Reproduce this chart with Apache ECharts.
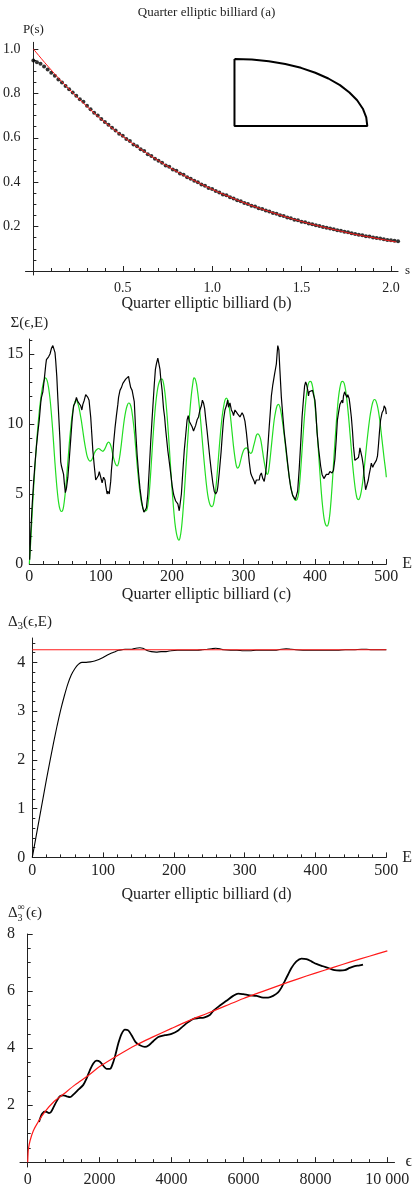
<!DOCTYPE html>
<html><head><meta charset="utf-8">
<script src="https://cdn.jsdelivr.net/npm/echarts@6/dist/echarts.min.js"></script>
<style>html,body{margin:0;padding:0;background:#fff}#c{width:413px;height:1188px}</style>
</head><body><div id="c"></div>
<script>
// ---------------- Panel (a): P(s) ----------------
const aStep = 0.02; // spacing of the histogram points in s
const aPoints = [
 .948,.940,.933,.921,.908,.893,.879,.862,.849,.833,
 .818,.804,.789,.774,.762,.744,.728,.713,.700,.685,
 .671,.659,.645,.633,.618,.609,.594,.585,.570,.562,
 .548,.540,.526,.518,.505,.496,.488,.475,.470,.457,
 .451,.439,.433,.422,.416,.406,.400,.390,.384,.374,
 .369,.360,.354,.345,.341,.332,.327,.319,.314,.306,
 .302,.294,.290,.283,.279,.272,.268,.261,.258,.251,
 .248,.241,.238,.231,.229,.222,.220,.214,.211,.206,
 .203,.198,.195,.191,.188,.184,.181,.177,.174,.170,
 .167,.163,.161,.157,.155,.151,.149,.146,.143,.140,
 .138,.136,.134];
const aRed = [[0,1.0],[0.1,0.905],[0.2,0.819],[0.3,0.741],[0.4,0.670],[0.5,0.607],[0.6,0.549],[0.7,0.497],[0.8,0.449],[0.9,0.407],[1.0,0.368],[1.1,0.333],[1.2,0.301],[1.3,0.273],[1.4,0.247],[1.5,0.223],[1.6,0.202],[1.7,0.183],[1.8,0.165],[1.9,0.150],[2.0,0.135],[2.03,0.131]];
// billiard outline drawn inside panel (a)
const insetOutline = [[1.125,0.955],[1.222,0.952],[1.317,0.945],[1.409,0.932],[1.497,0.915],[1.577,0.893],[1.650,0.867],[1.715,0.837],[1.768,0.804],[1.811,0.769],[1.843,0.731],[1.862,0.692],[1.868,0.653],[1.125,0.653],[1.125,0.955]];
const aXTicks = [0.5,1.0,1.5,2.0];
const aXLabels = ['0.5','1.0','1.5','2.0'];
const aYTicks = [0.2,0.4,0.6,0.8,1.0];
const aYLabels = ['0.2','0.4','0.6','0.8','1.0'];

// ---------------- Panel (b): Sigma(eps,E) ----------------
const bBlack = [[0.5,0.3],[2,2.2],[4,4.2],[6,5.8],[8,7.2],[10,8.4],[12,9.4],[14,10.3],[16,11.5],[17,11.9],[18,11.8],[19,12.3],[21,13.2],[23,14.2],[24,14.6],[26,14.5],[27,14.8],[29,15.0],[31,15.4],[33,15.6],[34.5,15.7],[36,15.1],[37,14.5],[38.5,13.4],[40,11.8],[41.5,10.3],[43,8.8],[44,7.3],[45,7.0],[47,7.0],[48,6.4],[49,5.8],[50.5,5.1],[52,5.4],[54,6.2],[56,7.5],[58,8.9],[60,10.3],[62,11.3],[64,11.5],[66,11.9],[68,11.6],[70,11.7],[72,11.3],[73.6,11.0],[75,11.4],[77,11.7],[79,12.1],[80.5,12.0],[82,11.9],[83.7,11.7],[85,11.0],[86,10.5],[87.5,9.3],[89,8.1],[91,7.0],[93,6.0],[95,5.9],[96.6,6.3],[98,6.6],[100,6.5],[101,6.0],[102,5.8],[104,6.2],[106,6.0],[107,5.6],[109,5.0],[110,5.2],[111,5.2],[112,5.0],[114,5.9],[115,6.7],[117,7.8],[118,8.6],[120,9.7],[122,10.6],[124,11.4],[125,11.9],[127,12.4],[129,12.6],[131,12.9],[133,13.0],[135,13.2],[137,13.3],[139,13.4],[140,13.1],[141,13.0],[142,12.6],[144,12.4],[146,12.4],[147,11.6],[149,9.5],[151,7.8],[153,6.5],[155,5.4],[157,4.6],[159,4.0],[160.5,3.7],[162,3.8],[164,4.0],[166,5.0],[168,6.8],[170,8.7],[172,10.4],[173,11.2],[175,12.8],[176.6,13.9],[178,14.3],[180,14.7],[181,14.6],[183,13.9],[184,13.3],[186,12.4],[188,11.1],[189.5,10.5],[191,9.6],[193,8.6],[194,8.1],[196,7.3],[198.7,6.2],[200,5.6],[202,5.0],[203,4.8],[205,4.5],[207,4.5],[208,4.3],[210,3.8],[211,3.7],[213,5.0],[215,6.6],[217,8.1],[219,9.2],[221,10.3],[222.6,10.6],[224,10.2],[226,10.1],[228,9.8],[230,9.5],[231,9.6],[233,9.9],[235,10.3],[237,10.5],[239,11.0],[241,11.3],[242.4,11.7],[244,11.5],[245.6,11.1],[247,10.4],[249,9.5],[251,8.5],[253,7.5],[255,6.6],[257,5.8],[259,5.2],[261,5.0],[263,5.2],[264,5.5],[266,6.5],[268.6,8.0],[270,9.0],[272,10.3],[274,11.0],[276,11.3],[277.8,11.7],[279,11.2],[281,11.5],[283,11.0],[285,10.8],[286,10.6],[288,11.0],[290.7,11.1],[292,10.7],[294,10.6],[295,10.5],[297,10.4],[298,10.8],[300,10.6],[302,10.2],[304,9.4],[306,8.4],[308,7.3],[310,6.5],[311.4,6.3],[313,6.2],[315,5.9],[316,5.7],[318,6.0],[320,5.9],[322,6.0],[323,6.3],[325,6.5],[327,6.1],[329,5.9],[331,6.5],[332,7.0],[334,8.3],[336,9.8],[338,11.2],[339,12.0],[341,12.8],[343.6,13.6],[345,14.0],[346,14.3],[347,15.0],[348,15.6],[349.5,15.3],[351,13.8],[353,11.9],[355,10.6],[357,9.4],[359.7,8.2],[362,7.1],[364,6.2],[366,5.5],[368.8,4.9],[371,4.9],[372.6,4.6],[374,4.7],[375.8,5.2],[378,6.8],[380.4,8.9],[382,10.5],[384,11.8],[385.5,12.7],[387,13.0],[388.5,12.8],[390,12.4],[391,12.0],[392,12.3],[394,12.2],[396.6,12.4],[398,12.1],[400,11.7],[401,11.1],[403,9.4],[405,8.3],[408,7.0],[410,6.4],[412.6,6.1],[414,6.2],[416,6.4],[417,6.5],[419,6.4],[421,6.6],[423,6.6],[424,6.5],[426,6.7],[428,7.5],[430,9.0],[431.5,10.3],[433,10.8],[435,11.4],[437.9,11.7],[439,11.5],[440,12.0],[441.6,12.3],[443,12.1],[445,11.9],[446,12.1],[448,11.8],[449,11.4],[451,10.5],[452.6,9.5],[454,8.4],[456,7.4],[458,7.4],[460.9,7.6],[462,7.9],[463,8.3],[464.6,8.4],[466,7.6],[467.8,7.0],[469,6.2],[471,5.3],[472,5.4],[474.7,6.0],[476,6.4],[478,6.9],[479,7.2],[481,6.9],[482.5,7.1],[484,7.0],[486,7.4],[487.6,7.7],[489,8.5],[490.5,9.5],[492,10.3],[494,10.8],[496,11.0],[497,11.3],[499,11.1],[500,10.7]];
const bGreen = [[0,0],[2,1.6],[4,3.6],[6,5.4],[8,7.0],[10,8.5],[12,9.8],[14,10.9],[16,11.8],[18,12.5],[20,13.0],[22.6,13.3],[25,13.1],[27,12.6],[29,11.8],[31,10.7],[33,9.4],[35,7.9],[37,6.5],[39,5.3],[41,4.4],[43,3.9],[45,3.75],[46.5,3.8],[48,4.1],[50,4.9],[52,6.0],[54,7.3],[56,8.6],[58,9.7],[60,10.6],[62,11.2],[64,11.6],[65.5,11.7],[67,11.6],[69,11.3],[71,10.8],[73,10.2],[75,9.5],[77,8.8],[79,8.2],[81,7.7],[83,7.45],[85,7.35],[87,7.4],[89,7.6],[91,7.9],[93,8.1],[95,8.2],[97,8.25],[99,8.2],[101,8.1],[103,8.05],[105,8.15],[107,8.35],[109,8.6],[111,8.7],[113,8.6],[115,8.3],[117,7.8],[119,7.4],[121,7.1],[123,7.0],[125,7.2],[127,7.8],[129,8.6],[131,9.5],[133,10.3],[135,10.9],[137,11.3],[139,11.5],[141,11.45],[143,11.1],[145,10.4],[147,9.5],[149,8.3],[151,7.1],[153,6.0],[155,5.1],[157,4.4],[159,4.0],[161,3.8],[163,3.8],[164.5,3.85],[166,4.2],[168,5.1],[170,6.5],[172,8.1],[174,9.6],[176,10.9],[178,11.9],[180,12.6],[182,13.0],[184,13.2],[186,13.2],[188,12.9],[190,12.2],[192,11.2],[194,9.9],[196,8.4],[198,6.8],[200,5.3],[202,4.0],[204,2.9],[206,2.2],[208,1.8],[209.5,1.7],[211,1.85],[213,2.5],[215,3.6],[217,5.0],[219,6.6],[221,8.2],[223,9.7],[225,11.0],[227,12.1],[229,12.9],[230.5,13.3],[232,13.25],[234,12.9],[236,12.2],[238,11.3],[240,10.2],[242,9.0],[244,7.8],[246,6.7],[248,5.7],[250,4.9],[252,4.4],[254,4.15],[256,4.1],[258,4.3],[260,4.9],[262,5.8],[264,7.0],[266,8.3],[268,9.5],[270,10.5],[272,11.2],[274,11.7],[276,11.85],[278,11.7],[280,11.2],[282,10.4],[284,9.4],[286,8.4],[288,7.6],[290,7.0],[292,6.85],[294,7.0],[296,7.4],[298,7.8],[300,8.1],[302,8.25],[304,8.3],[306,8.2],[308,8.0],[310,7.9],[312,8.0],[314,8.4],[316,8.8],[318,9.2],[320,9.3],[322,9.2],[324,8.9],[326,8.3],[328,7.6],[330,7.0],[332,6.5],[333.5,6.4],[335,6.6],[337,7.4],[339,8.4],[341,9.4],[343,10.3],[345,10.9],[347,11.3],[349,11.4],[351,11.2],[353,10.7],[355,10.0],[357,9.2],[359,8.3],[361,7.4],[363,6.6],[365,5.9],[367,5.3],[369,4.9],[371,4.65],[373,4.55],[375,4.6],[377,5.0],[379,6.0],[381,7.4],[383,8.9],[385,10.3],[387,11.5],[389,12.4],[391,12.9],[393,13.05],[395,13.0],[397,12.6],[399,11.9],[401,10.8],[403,9.5],[405,8.0],[407,6.5],[409,5.1],[411,4.0],[413,3.2],[415,2.8],[417,2.7],[419,2.9],[421,3.6],[423,4.8],[425,6.3],[427,7.9],[429,9.4],[431,10.8],[433,11.9],[435,12.6],[437,13.0],[439,13.05],[441,12.9],[443,12.4],[445,11.6],[447,10.6],[449,9.4],[451,8.2],[453,7.0],[455,6.0],[457,5.2],[459,4.7],[461,4.6],[463,4.75],[465,5.2],[467,5.9],[469,6.8],[471,7.8],[473,8.8],[475,9.7],[477,10.5],[479,11.1],[481,11.55],[483,11.75],[485,11.7],[487,11.4],[489,10.9],[491,10.2],[493,9.3],[495,8.4],[497,7.5],[499,6.7],[500,6.2]];
const eTicks = [0,100,200,300,400,500];
const eLabels = ['0','100','200','300','400','500'];
const bYTicks = [0,5,10,15];
const bYLabels = ['0','5','10','15'];

// ---------------- Panel (c): Delta3(eps,E) ----------------
const cBlack = [[0,0],[5,0.4],[10,0.8],[15,1.2],[20,1.6],[25,1.98],[30,2.35],[35,2.7],[40,3.02],[45,3.3],[50,3.55],[55,3.74],[60,3.87],[65,3.96],[70,4.0],[76,4.0],[82,4.01],[88,4.03],[94,4.06],[100,4.1],[106,4.15],[112,4.19],[117,4.22],[122,4.25],[127,4.26],[131,4.27],[136,4.27],[140.5,4.27],[146,4.29],[152,4.3],[156,4.29],[159,4.27],[163,4.24],[168,4.22],[175,4.21],[182,4.22],[189,4.22],[196,4.24],[205,4.25],[215,4.25],[225,4.25],[233,4.25],[240,4.26],[247,4.27],[253,4.28],[259,4.29],[265,4.28],[270,4.26],[280,4.25],[289,4.25],[298,4.24],[307.5,4.24],[316,4.25],[326,4.25],[335,4.25],[344.6,4.25],[352,4.27],[358.5,4.28],[365,4.27],[372,4.26],[384,4.25],[395.6,4.25],[407,4.25],[419,4.25],[431,4.25],[442,4.26],[454,4.26],[465,4.27],[472,4.27],[479,4.26],[490,4.26],[500,4.26]];
const cRed = [[0,4.26],[500,4.26]];
const cYTicks = [0,1,2,3,4];
const cYLabels = ['0','1','2','3','4'];

// ---------------- Panel (d): Delta3^inf(eps) ----------------
const dBlack = [[315,1.41],[350,1.55],[389,1.67],[430,1.74],[463,1.77],[528,1.76],[593,1.72],[648,1.76],[713,1.91],[806,2.14],[898,2.31],[991,2.34],[1083,2.31],[1176,2.28],[1269,2.37],[1407,2.54],[1546,2.71],[1639,2.94],[1731,3.23],[1824,3.46],[1917,3.56],[2009,3.52],[2102,3.38],[2194,3.27],[2287,3.27],[2352,3.41],[2426,3.70],[2519,4.16],[2611,4.5],[2704,4.65],[2796,4.62],[2889,4.45],[3000,4.21],[3120,4.1],[3259,4.04],[3370,4.1],[3491,4.24],[3630,4.39],[3815,4.45],[4000,4.5],[4185,4.62],[4324,4.77],[4463,4.91],[4602,5.02],[4741,5.05],[4900,5.07],[5065,5.16],[5157,5.3],[5343,5.49],[5528,5.66],[5713,5.83],[5852,5.91],[5991,5.89],[6176,5.85],[6361,5.83],[6546,5.77],[6685,5.77],[6824,5.83],[6963,5.95],[7056,6.12],[7148,6.35],[7241,6.58],[7333,6.81],[7472,7.04],[7611,7.14],[7750,7.12],[7889,7.04],[8028,6.95],[8213,6.87],[8398,6.79],[8537,6.73],[8676,6.72],[8815,6.73],[8954,6.81],[9093,6.87],[9231,6.9],[9324,6.93]];
const dRed = [[0,0],[10,0.3],[20,0.46],[65,0.75],[157,1.1],[296,1.42],[481,1.77],[713,2.1],[1009,2.4],[1315,2.71],[1685,3.04],[2000,3.35],[2500,3.74],[3000,4.1],[3500,4.4],[4000,4.69],[4500,4.97],[5000,5.22],[5500,5.48],[6000,5.74],[6500,5.97],[7000,6.2],[7500,6.42],[8000,6.63],[8500,6.83],[9000,7.03],[9500,7.22],[10000,7.41]];
const dXTicks = [0,2000,4000,6000,8000,10000];
const dXLabels = ['0','2000','4000','6000','8000','10 000'];
const dYTicks = [2,4,6,8];
const dYLabels = ['2','4','6','8'];

// ---------------- rendering ----------------
const FONT = "'Liberation Serif','DejaVu Serif',serif";
const AX = '#222';
const TXT = '#222';

function steps(from, to, step, skipEvery) {
  const out = [];
  const n = Math.round((to - from) / step);
  for (let k = 0; k <= n; k++) {
    const v = +(from + k * step).toFixed(6);
    if (skipEvery && Math.round(v / step) % skipEvery === 0) continue;
    out.push(v);
  }
  return out;
}

function axisPair(dim, gridIndex, c) {
  const base = { type: 'value', gridIndex, min: c.min, max: c.max, splitLine: { show: false },
    position: dim === 'x' ? 'bottom' : 'left' };
  const main = Object.assign({}, base, {
    axisLine: { show: true, onZero: true, lineStyle: { color: AX, width: 1 } },
    axisTick: { show: true, inside: true, length: 5, customValues: c.ticks, lineStyle: { color: AX, width: 1 } },
    axisLabel: { show: true, customValues: c.ticks, fontFamily: FONT, fontSize: c.fontSize, color: TXT, margin: c.margin,
      formatter: function (v) { const i = c.ticks.findIndex(t => Math.abs(t - v) < 1e-9); return i >= 0 ? c.labels[i] : ''; } },
    name: c.name || '', nameLocation: 'end', nameGap: c.nameGap || 8,
    nameTextStyle: { fontFamily: FONT, fontSize: c.nameSize || 15, color: TXT }
  });
  const minor = Object.assign({}, base, {
    axisLine: { show: false, onZero: true },
    axisTick: { show: true, inside: true, length: 3, customValues: c.minor, lineStyle: { color: AX, width: 1 } },
    axisLabel: { show: false }
  });
  return [main, minor];
}

const grids = [
  { left: 22.06, top: 42.3, width: 376, height: 232.7 },
  { left: 29.3, top: 339, width: 362.4, height: 225 },
  { left: 32.3, top: 638, width: 359.4, height: 219.4 },
  { left: 20.0, top: 934, width: 374.9, height: 235.9 }
];

const xAxes = [].concat(
  axisPair('x', 0, { min: -0.044, max: 2.04, ticks: aXTicks, labels: aXLabels, minor: steps(0.1, 2.0, 0.1, 5), fontSize: 14, margin: 6, name: 's', nameSize: 13, nameGap: 7 }),
  axisPair('x', 1, { min: 0, max: 500, ticks: eTicks, labels: eLabels, minor: steps(20, 500, 20, 5), fontSize: 16, margin: 5, name: 'E', nameSize: 16, nameGap: 8 }),
  axisPair('x', 2, { min: 0, max: 500, ticks: eTicks, labels: eLabels, minor: steps(20, 500, 20, 5), fontSize: 16, margin: 5, name: 'E', nameSize: 16, nameGap: 8 }),
  axisPair('x', 3, { min: -214, max: 10200, ticks: dXTicks, labels: dXLabels, minor: steps(500, 10000, 500, 4), fontSize: 16, margin: 5, name: 'ϵ', nameSize: 16, nameGap: 11 })
);
const yAxes = [].concat(
  axisPair('y', 0, { min: -0.018, max: 1.03, ticks: aYTicks, labels: aYLabels, minor: steps(0.05, 1.0, 0.05, 4), fontSize: 14, margin: 5, name: 'P(s)', nameSize: 13, nameGap: 6 }),
  axisPair('y', 1, { min: 0, max: 16.07, ticks: bYTicks, labels: bYLabels, minor: steps(1, 16, 1, 5), fontSize: 16, margin: 6, name: 'Σ(ϵ,E)', nameSize: 15, nameGap: 8 }),
  axisPair('y', 2, { min: 0, max: 4.5, ticks: cYTicks, labels: cYLabels, minor: steps(0.2, 4.4, 0.2, 5), fontSize: 16, margin: 7, name: '' }),
  axisPair('y', 3, { min: -0.17, max: 8, ticks: dYTicks, labels: dYLabels, minor: steps(0.5, 8, 0.5, 4), fontSize: 16, margin: 5, name: '' })
);

function line(gi, data, color, width, extra) {
  return Object.assign({ type: 'line', xAxisIndex: gi * 2, yAxisIndex: gi * 2, data, showSymbol: false, symbol: 'none',
    lineStyle: { color, width }, itemStyle: { color }, silent: true }, extra || {});
}

const series = [
  { type: 'scatter', xAxisIndex: 0, yAxisIndex: 0, data: aPoints.map((p, i) => [+(i * aStep).toFixed(4), p]),
    symbol: 'circle', symbolSize: 4, itemStyle: { color: '#000' }, silent: true },
  line(0, aRed, '#ff1a1a', 1, { smooth: true }),
  line(0, insetOutline, '#000', 2),
  line(1, bGreen, '#22dd22', 1.2, { smooth: 0.3 }),
  line(1, bBlack, '#000', 1.2),
  line(2, cBlack, '#000', 1.1, { smooth: 0.2 }),
  line(2, cRed, '#ff1a1a', 1.1),
  line(3, dBlack, '#000', 1.8, { smooth: 0.3 }),
  line(3, dRed, '#ff1a1a', 1.2, { smooth: 0.3 })
];

function titleAt(text, top, size) {
  return { text, left: 'center', top, padding: 0, textStyle: { fontFamily: FONT, fontSize: size, fontWeight: 'normal', color: TXT } };
}

function gtext(text, x, y, size) {
  return { type: 'text', x, y, silent: true,
    style: { text, font: size + 'px ' + FONT, fill: TXT, verticalAlign: 'middle', align: 'left' } };
}

const chart = echarts.init(document.getElementById('c'), null, { renderer: 'canvas' });
chart.setOption({
  animation: false,
  backgroundColor: '#fff',
  title: [
    titleAt('Quarter elliptic billiard (a)', 6, 13),
    titleAt('Quarter elliptic billiard (b)', 296, 16),
    titleAt('Quarter elliptic billiard (c)', 587, 16),
    titleAt('Quarter elliptic billiard (d)', 887, 16)
  ],
  grid: grids,
  xAxis: xAxes,
  yAxis: yAxes,
  series,
  graphic: [
    gtext('Δ', 8, 622, 15), gtext('3', 17.5, 626, 11), gtext('(ϵ,E)', 23, 622, 15),
    gtext('Δ', 8, 913, 15), gtext('∞', 17.5, 907, 10), gtext('3', 17.5, 918, 10), gtext('(ϵ)', 26, 913, 15)
  ]
});
</script></body></html>
